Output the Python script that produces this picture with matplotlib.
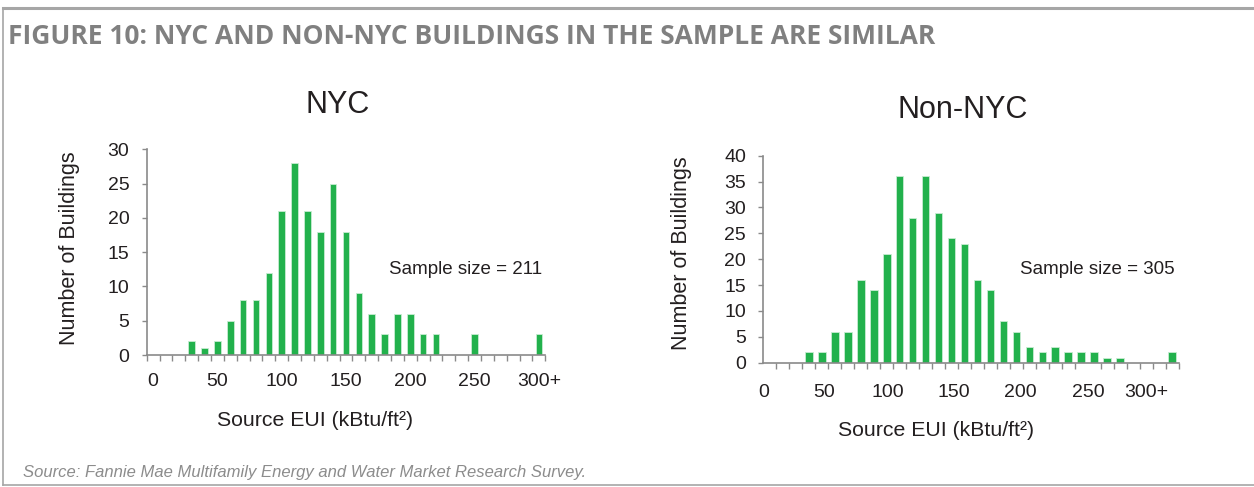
import matplotlib
matplotlib.use("Agg")
import matplotlib.pyplot as plt
from matplotlib.lines import Line2D
import numpy as np

# ---- data ----
nyc_counts = [0, 0, 0, 2, 1, 2, 5, 8, 8, 12, 21, 28, 21, 18, 25, 18, 9, 6, 3, 6,
              6, 3, 3, 0, 0, 3, 0, 0, 0, 0, 3]
nonnyc_counts = [0, 0, 0, 2, 2, 6, 6, 16, 14, 21, 36, 28, 36, 29, 24, 23, 16, 14, 8, 6,
                 3, 2, 3, 2, 2, 2, 1, 1, 0, 0, 0, 2]
tick_labels = ["0", "50", "100", "150", "200", "250", "300+"]
nyc_title = "NYC"
nonnyc_title = "Non-NYC"
nyc_sample = "Sample size = 211"
nonnyc_sample = "Sample size = 305"

# ---- layout ----
W, H = 1254, 487
plt.rcParams['font.family'] = ['Liberation Sans', 'DejaVu Sans']
TXT = '#231f20'
GRID = '#8a8a8a'
GREEN = '#22b14c'

fig = plt.figure(figsize=(W / 100, H / 100), dpi=100)

def fx(px):
    return px / W

def fy(py):
    return 1 - py / H

# frame lines
fig.add_artist(Line2D([fx(3), 1], [fy(8), fy(8)], color='#a6a6a6', lw=2.2))
fig.add_artist(Line2D([fx(3), fx(3)], [fy(8), fy(485)], color='#a6a6a6', lw=1.2))
fig.add_artist(Line2D([fx(3), 1], [fy(485), fy(485)], color='#a6a6a6', lw=1.2))

fig.text(fx(8), fy(37), "FIGURE 10: NYC AND NON-NYC BUILDINGS IN THE SAMPLE ARE SIMILAR",
         fontsize=19, fontweight='bold', family='Open Sans', color='#808080',
         ha='left', va='center')
fig.text(fx(23), fy(472), "Source: Fannie Mae Multifamily Energy and Water Market Research Survey.",
         fontsize=12, style='italic', color='#8c8c8c', ha='left', va='center')


def make_panel(rect, counts, ymax, bar_w, label_pos, title, title_xy, sample, sample_xy,
               ylabel_xy, xlabel_xy, xlab_pad):
    ax = fig.add_axes(rect)
    n = len(counts)
    x = np.arange(n)
    ax.bar(x, counts, width=bar_w, color=GREEN, edgecolor='#c8ecd2', linewidth=0.6)
    ax.set_xlim(-0.5, n - 0.5)
    ax.set_ylim(0, ymax)
    for s in ['top', 'right']:
        ax.spines[s].set_visible(False)
    for s in ['left', 'bottom']:
        ax.spines[s].set_color(GRID)
        ax.spines[s].set_linewidth(1.2)
    ax.set_yticks(np.arange(0, ymax + 1, 5))
    ax.tick_params(axis='y', length=3.5, width=1.0, color=GRID, labelsize=14,
                   labelcolor=TXT, pad=9)
    ax.set_xticks(label_pos)
    ax.set_xticklabels(tick_labels)
    ax.set_xticks(np.arange(-0.5, n, 1.0), minor=True)
    ax.tick_params(axis='x', which='major', length=0, labelsize=14, labelcolor=TXT,
                   pad=xlab_pad)
    ax.tick_params(axis='x', which='minor', length=4.5, width=1.0, color=GRID)
    fig.text(fx(title_xy[0]), fy(title_xy[1]), title, fontsize=22, color=TXT,
             ha='center', va='center')
    fig.text(fx(sample_xy[0]), fy(sample_xy[1]), sample, fontsize=13.5, color=TXT,
             ha='left', va='center')
    fig.text(fx(ylabel_xy[0]), fy(ylabel_xy[1]), "Number of Buildings", fontsize=15.5,
             color=TXT, rotation=90, ha='center', va='center')
    fig.text(fx(xlabel_xy[0]), fy(xlabel_xy[1]), "Source EUI (kBtu/ft²)", fontsize=15.3,
             color=TXT, ha='center', va='center')
    return ax

# NYC panel
make_panel([fx(146.7), fy(355), fx(545.3) - fx(146.7), fy(149.3) - fy(355)],
           nyc_counts, 30, 0.52, [0, 5, 10, 15, 20, 25, 30], nyc_title, (338, 105),
           nyc_sample, (389, 270), (70, 248), (315, 421), 13)

# Non-NYC panel
make_panel([fx(763.3), fy(362.7), fx(1178.7) - fx(763.3), fy(155.7) - fy(362.7)],
           nonnyc_counts, 40, 0.6, [-0.5, 4.2, 9.1, 14.2, 19.3, 24.5, 29.0], nonnyc_title,
           (963, 110), nonnyc_sample, (1020, 270), (681, 253), (936, 431), 15)

fig.savefig("out.png", dpi=100)
